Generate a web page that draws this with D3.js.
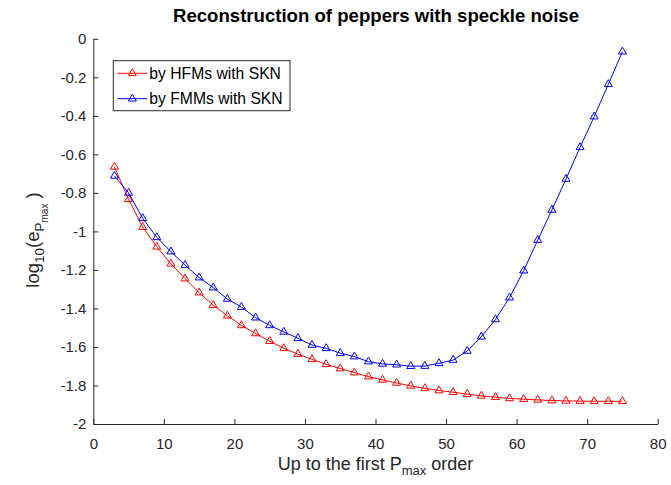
<!DOCTYPE html>
<html>
<head>
<meta charset="utf-8">
<script src="https://cdn.jsdelivr.net/npm/d3@7"></script>
<style>
  html, body { margin: 0; padding: 0; background: #fff; }
  svg { display: block; font-family: "Liberation Sans", Arial, Helvetica, sans-serif; }
</style>
</head>
<body>
<svg id="chart" width="671" height="485"></svg>
<script>
// Maximum order P_max (odd orders 3..75)
const orders = [3, 5, 7, 9, 11, 13, 15, 17, 19, 21, 23, 25, 27, 29, 31, 33, 35, 37, 39,
                41, 43, 45, 47, 49, 51, 53, 55, 57, 59, 61, 63, 65, 67, 69, 71, 73, 75];

// log10 reconstruction error, HFMs with speckle noise
const hfmError = [-0.665, -0.833, -0.978, -1.080, -1.168, -1.245, -1.318, -1.383, -1.438,
                  -1.488, -1.530, -1.570, -1.607, -1.637, -1.664, -1.690, -1.712, -1.733,
                  -1.754, -1.771, -1.787, -1.802, -1.815, -1.826, -1.835, -1.845, -1.854,
                  -1.861, -1.867, -1.871, -1.875, -1.878, -1.880, -1.881, -1.882, -1.882, -1.882];

// log10 reconstruction error, FMMs with speckle noise
const fmmError = [-0.712, -0.800, -0.932, -1.031, -1.105, -1.175, -1.240, -1.292, -1.351,
                  -1.393, -1.448, -1.488, -1.522, -1.555, -1.590, -1.607, -1.632, -1.650,
                  -1.676, -1.688, -1.692, -1.700, -1.699, -1.685, -1.668, -1.621, -1.547,
                  -1.457, -1.344, -1.204, -1.045, -0.889, -0.728, -0.563, -0.404, -0.236, -0.067];

const seriesNames = ["by HFMs with SKN", "by FMMs with SKN"];
const seriesColors = ["#ff0000", "#0000ff"];

const xTicks = [0, 10, 20, 30, 40, 50, 60, 70, 80];
const xTickLabels = ["0", "10", "20", "30", "40", "50", "60", "70", "80"];
const yTicks = [0, -0.2, -0.4, -0.6, -0.8, -1, -1.2, -1.4, -1.6, -1.8, -2];
const yTickLabels = ["0", "-0.2", "-0.4", "-0.6", "-0.8", "-1", "-1.2", "-1.4", "-1.6", "-1.8", "-2"];

const titleText = "Reconstruction of peppers with speckle noise";

const svg = d3.select("#chart");
const axisColor = "#262626";

const x = d3.scaleLinear().domain([0, 80]).range([93.3, 657.7]);
const y = d3.scaleLinear().domain([-2, 0]).range([424, 38.8]);

// Axes with inward ticks, MATLAB style
const gx = svg.append("g")
  .attr("transform", `translate(0,${y(-2)})`)
  .call(d3.axisBottom(x).tickValues(xTicks)
    .tickFormat((d, i) => xTickLabels[i])
    .tickSizeInner(-5).tickSizeOuter(0).tickPadding(14));

const gy = svg.append("g")
  .attr("transform", `translate(${x(0)},0)`)
  .call(d3.axisLeft(y).tickValues(yTicks)
    .tickFormat((d, i) => yTickLabels[i])
    .tickSizeInner(-5).tickSizeOuter(0).tickPadding(7));

[gx, gy].forEach(g => {
  g.select(".domain").attr("stroke", axisColor).attr("stroke-width", 1);
  g.selectAll(".tick line").attr("stroke", axisColor);
  g.selectAll(".tick text").attr("fill", axisColor)
    .attr("font-size", 15).attr("font-family", "Liberation Sans, Arial, sans-serif");
});

// Series
const triangle = "M0,-4.6L4,2.3L-4,2.3Z";
const line = d3.line().x(d => x(d[0])).y(d => y(d[1]));
[hfmError, fmmError].forEach((vals, s) => {
  const pts = orders.map((o, i) => [o, vals[i]]);
  const g = svg.append("g");
  g.append("path").datum(pts)
    .attr("d", line)
    .attr("fill", "none")
    .attr("stroke", seriesColors[s])
    .attr("stroke-width", 1);
  g.selectAll("path.mk").data(pts).enter().append("path")
    .attr("class", "mk")
    .attr("d", triangle)
    .attr("transform", d => `translate(${x(d[0])},${y(d[1])})`)
    .attr("fill", "none")
    .attr("stroke", seriesColors[s])
    .attr("stroke-width", 1);
});

// Title
svg.append("text")
  .attr("x", 376).attr("y", 22)
  .attr("text-anchor", "middle")
  .attr("font-size", 18.6).attr("font-weight", "bold")
  .attr("fill", "#000")
  .text(titleText);

// X axis label with subscript
const xl = svg.append("text")
  .attr("x", 375.5).attr("y", 470)
  .attr("text-anchor", "middle")
  .attr("font-size", 18).attr("fill", axisColor);
xl.append("tspan").text("Up to the first P");
xl.append("tspan").attr("font-size", 13).attr("dy", 5).text("max");
xl.append("tspan").attr("dy", -5).text(" order");

// Y axis label with nested subscripts
const yl = svg.append("text")
  .attr("transform", "translate(39,240) rotate(-90)")
  .attr("text-anchor", "middle")
  .attr("font-size", 18.5).attr("fill", axisColor);
yl.append("tspan").text("log");
yl.append("tspan").attr("font-size", 13.5).attr("dy", 5).text("10");
yl.append("tspan").attr("dy", -5).text("(e");
yl.append("tspan").attr("font-size", 13.5).attr("dy", 5).text("P");
yl.append("tspan").attr("font-size", 10).attr("dy", 4).text("max");
yl.append("tspan").attr("dy", -9).text("  )");

// Legend
const lg = svg.append("g").attr("transform", "translate(113.3,60.7)");
lg.append("rect")
  .attr("width", 176.7).attr("height", 50)
  .attr("fill", "#fff").attr("stroke", axisColor).attr("stroke-width", 1);
seriesNames.forEach((name, i) => {
  const cy = 12.6 + i * 25.4;
  lg.append("line").attr("x1", 4).attr("x2", 34).attr("y1", cy).attr("y2", cy)
    .attr("stroke", seriesColors[i]).attr("stroke-width", 1);
  lg.append("path").attr("d", triangle).attr("transform", `translate(19,${cy})`)
    .attr("fill", "none").attr("stroke", seriesColors[i]).attr("stroke-width", 1);
  lg.append("text").attr("x", 36).attr("y", cy).attr("dy", "0.35em")
    .attr("font-size", 15.7).attr("fill", "#000").text(name);
});
</script>
</body>
</html>
